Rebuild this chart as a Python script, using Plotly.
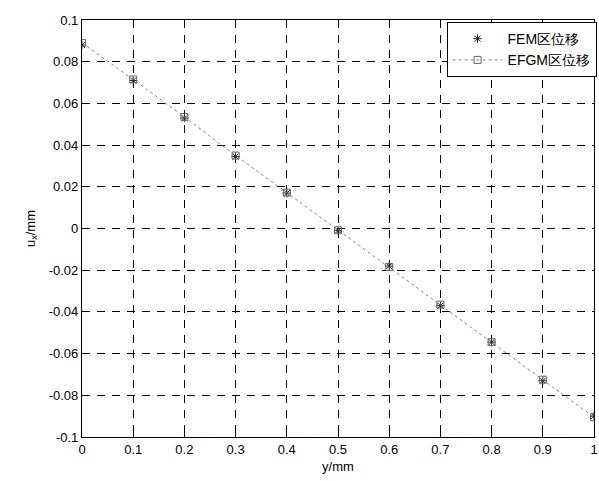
import plotly.graph_objects as go

x_vals = [0, 0.1, 0.2, 0.3, 0.4, 0.5, 0.6, 0.7, 0.8, 0.9, 1.0]
fem_ux = [0.088, 0.071, 0.053, 0.0345, 0.017, -0.001, -0.018, -0.037, -0.0545, -0.073, -0.090]
efgm_ux = [0.089, 0.0715, 0.0535, 0.035, 0.0172, -0.0008, -0.0185, -0.0365, -0.0545, -0.0725, -0.0905]

x_ticks = [0, 0.1, 0.2, 0.3, 0.4, 0.5, 0.6, 0.7, 0.8, 0.9, 1]
x_tick_text = ["0", "0.1", "0.2", "0.3", "0.4", "0.5", "0.6", "0.7", "0.8", "0.9", "1"]
y_ticks = [-0.1, -0.08, -0.06, -0.04, -0.02, 0, 0.02, 0.04, 0.06, 0.08, 0.1]
y_tick_text = ["-0.1", "-0.08", "-0.06", "-0.04", "-0.02", "0", "0.02", "0.04", "0.06", "0.08", "0.1"]

FONT = "Liberation Sans, Arial"

fig = go.Figure()
fig.add_trace(go.Scatter(
    x=x_vals, y=fem_ux, mode="markers", name="FEM区位移",
    marker=dict(symbol="asterisk-open", size=7, color="#222", line=dict(color="#222", width=1)),
))
fig.add_trace(go.Scatter(
    x=x_vals, y=efgm_ux, mode="lines+markers", name="EFGM区位移",
    line=dict(color="#888", width=1, dash="dot"),
    marker=dict(symbol="square-open", size=7, color="#666", line=dict(color="#666", width=1)),
))

axis_common = dict(
    showline=True, linecolor="black", linewidth=1.2, mirror=True,
    ticks="inside", ticklen=4, tickcolor="black",
    showgrid=True, gridcolor="black", griddash="8px,7px", gridwidth=1,
    zeroline=False, tickfont=dict(family=FONT, size=13, color="black"),
    ticklabeloverflow="allow",
)

fig.update_xaxes(range=[0, 1], tickvals=x_ticks, ticktext=x_tick_text,
                 title=dict(text="y/mm", font=dict(family=FONT, size=13, color="black"), standoff=6),
                 **axis_common)
fig.update_yaxes(range=[-0.1, 0.1], tickvals=y_ticks, ticktext=y_tick_text,
                 title=dict(text="u<sub>x</sub>/mm", font=dict(family=FONT, size=13, color="black"), standoff=10),
                 **axis_common)

fig.update_layout(
    width=599, height=481,
    margin=dict(l=82, r=2, t=20, b=44),
    paper_bgcolor="white", plot_bgcolor="white",
    legend=dict(x=1.005, y=0.995, xanchor="right", yanchor="top",
                bgcolor="white", bordercolor="black", borderwidth=1,
                font=dict(family=FONT, size=14, color="black"),
                tracegroupgap=0, itemwidth=50),
    showlegend=True,
)

fig.write_html("out.html")
